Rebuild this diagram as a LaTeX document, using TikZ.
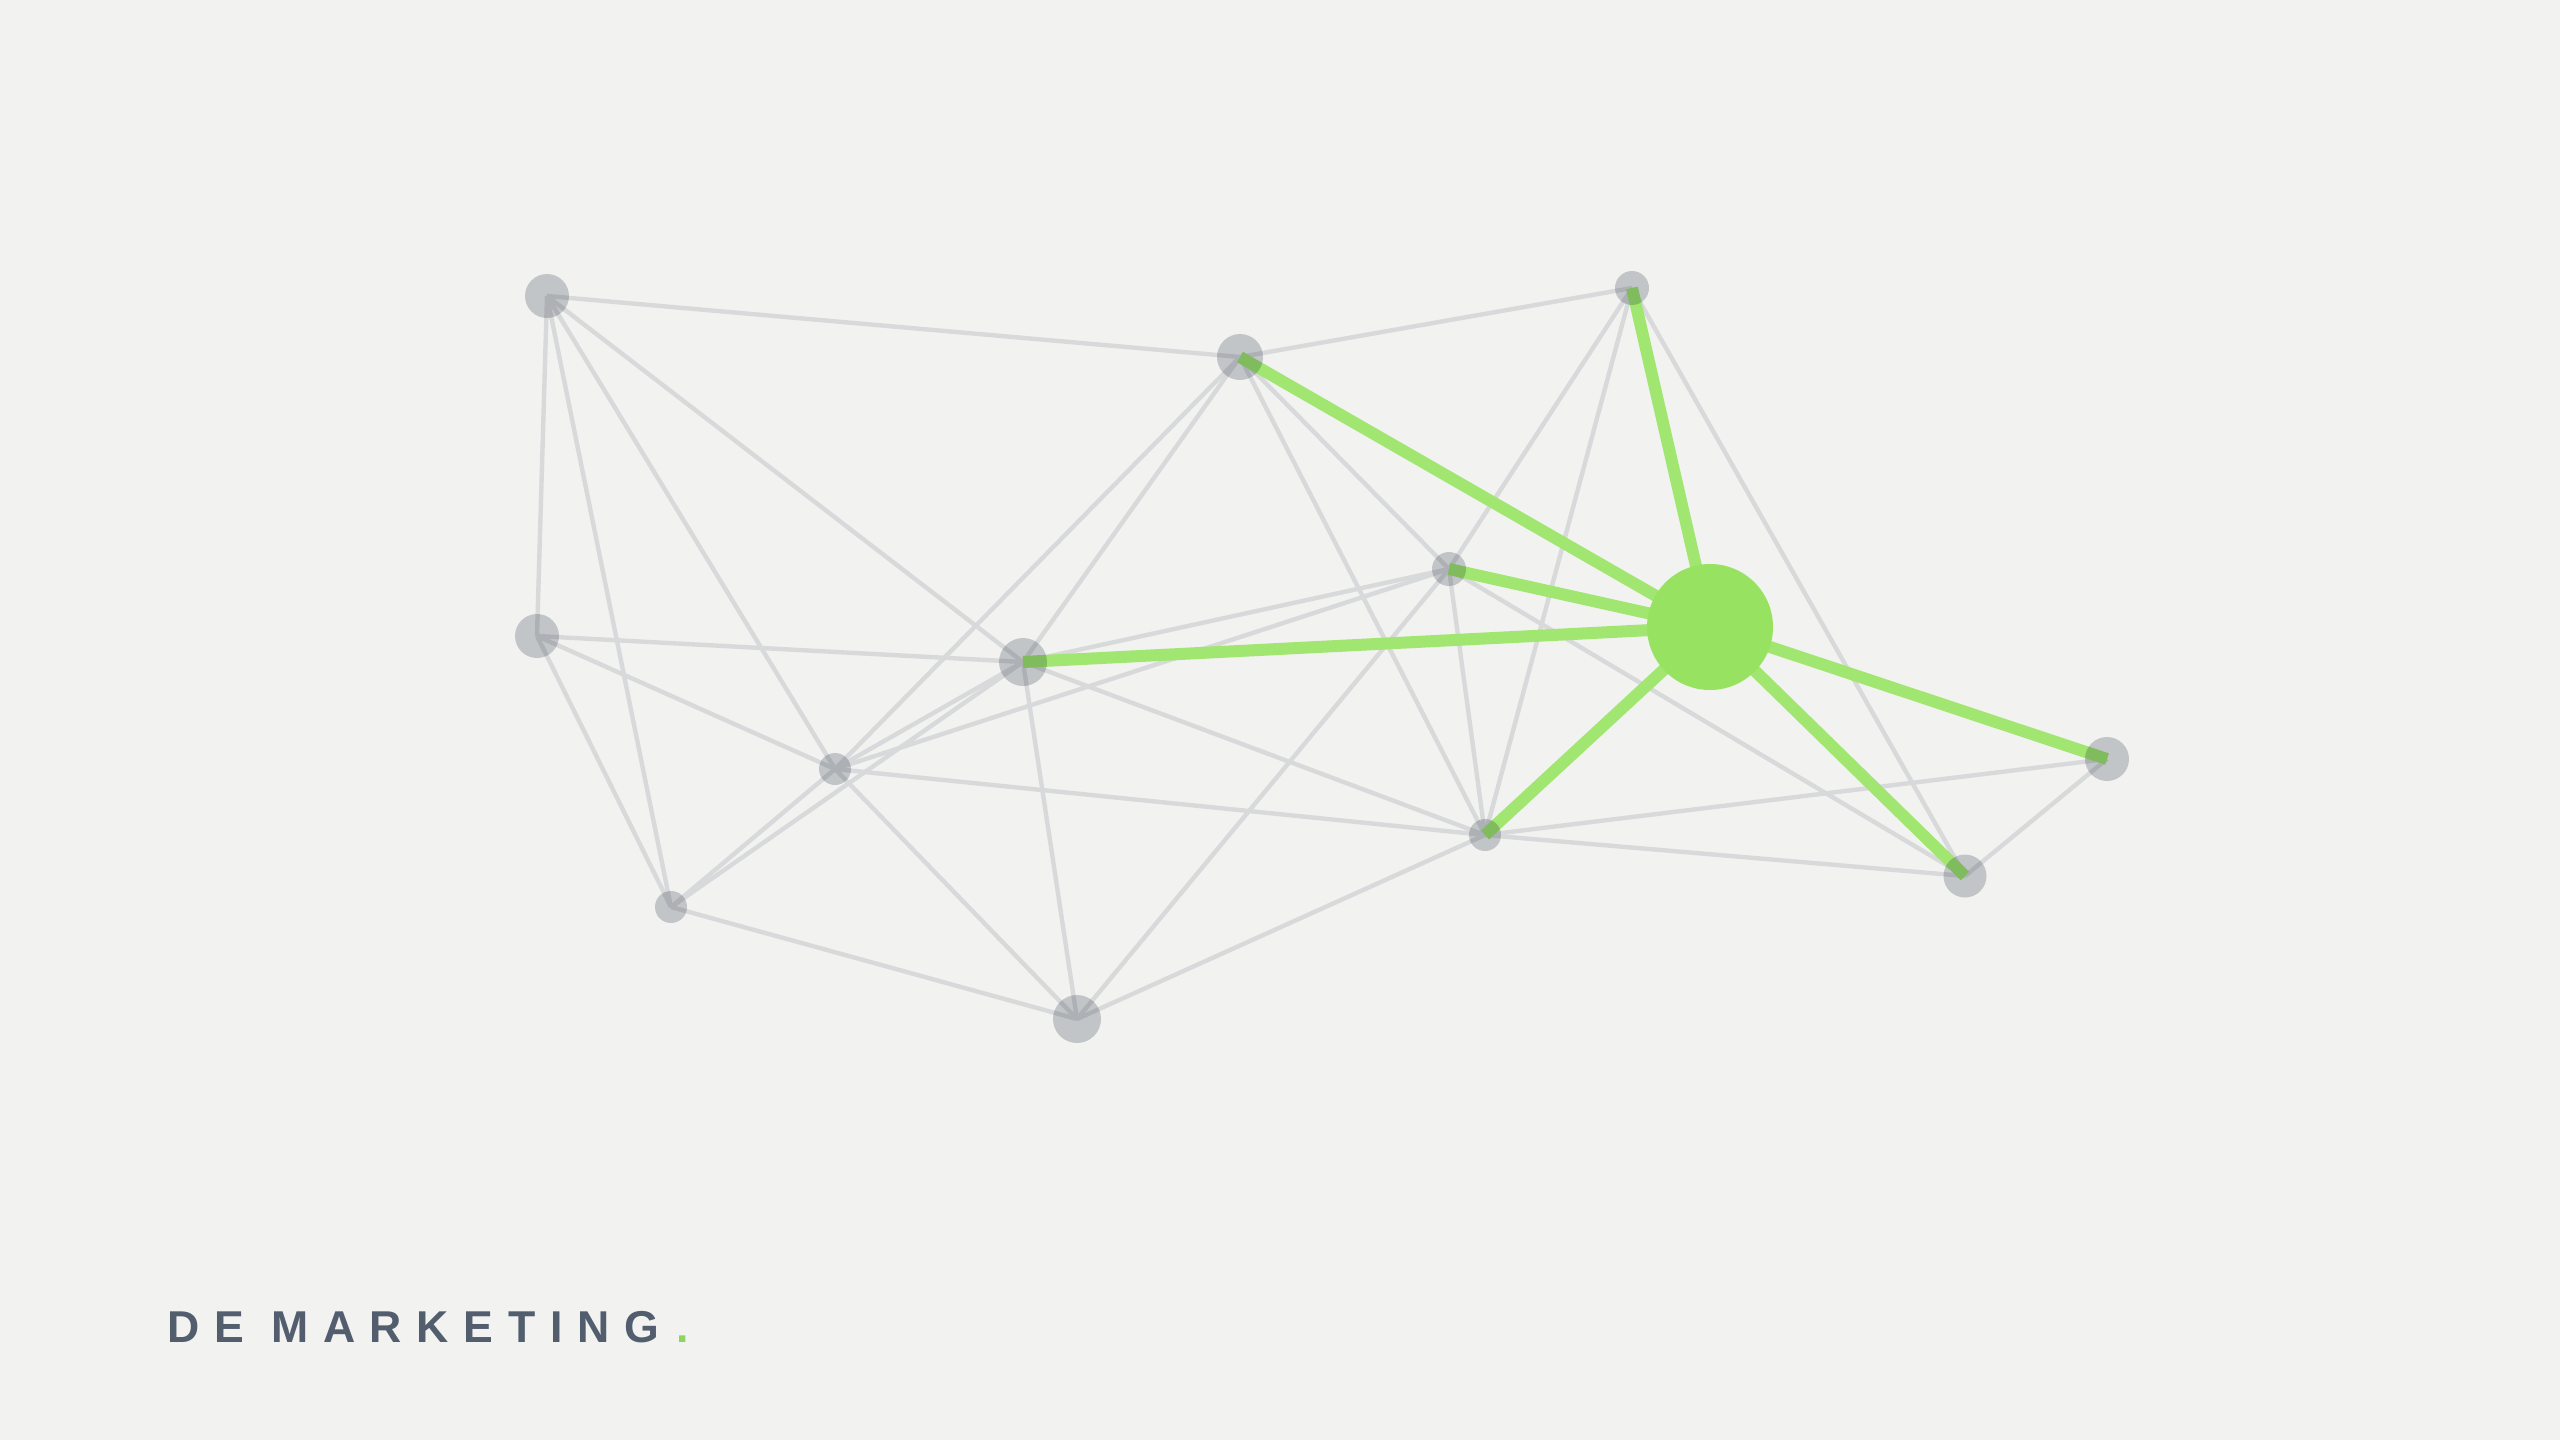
\documentclass[tikz,border=0pt]{standalone}
\usepackage{fontspec}
\setmainfont{Liberation Sans}
\newfontfamily\brandfont[LetterSpace=33]{Liberation Sans}
\definecolor{bgc}{HTML}{F2F2F0}
\definecolor{edgegray}{HTML}{D8D9DA}
\definecolor{edgegreen}{HTML}{A0E670}
\definecolor{hubgreen}{HTML}{98E262}
\definecolor{nodemul}{HTML}{CDD0D5}
\definecolor{brandtext}{HTML}{525D6E}
\definecolor{branddot}{HTML}{8FD45E}
\tikzset{
  gedge/.style={draw=edgegray, line width=2.2pt},
  hedge/.style={draw=edgegreen, line width=6pt},
  pt/.style={circle, inner sep=0pt, fill=nodemul, blend mode=multiply},
  hubnode/.style={circle, inner sep=0pt, fill=hubgreen},
}
\begin{document}
\begin{tikzpicture}[x=0.5pt, y=-0.5pt]
\fill[bgc] (0,0) rectangle (2560,1440);
\useasboundingbox (0,0) rectangle (2560,1440);
% node positions
\coordinate (pA) at (547,296);
\coordinate (pB) at (1240,357);
\coordinate (pC) at (1632,288);
\coordinate (pD) at (537,636);
\coordinate (pE) at (1023,662);
\coordinate (pF) at (1449,569);
\coordinate (pG) at (1710,627);
\coordinate (pH) at (835,769);
\coordinate (pI) at (671,907);
\coordinate (pJ) at (1077,1019);
\coordinate (pK) at (1485,835);
\coordinate (pL) at (1965,876);
\coordinate (pM) at (2107,759);
% gray edges
\foreach \u/\v in {A/B,A/D,A/I,A/H,A/E,B/C,B/H,B/E,B/F,B/K,C/F,C/K,C/L,D/E,D/H,D/I,E/F,E/H,E/I,E/J,E/K,F/H,F/J,F/K,F/L,H/I,H/J,H/K,I/J,J/K,K/L,K/M,L/M}
  \draw[gedge] (p\u) -- (p\v);
% green edges
\foreach \v in {B,C,F,E,K,L,M}
  \draw[hedge] (pG) -- (p\v);
% gray nodes
\node[pt, minimum size=22pt] (A) at (pA) {};
\node[pt, minimum size=23pt] (B) at (pB) {};
\node[pt, minimum size=17pt] (C) at (pC) {};
\node[pt, minimum size=22pt] (D) at (pD) {};
\node[pt, minimum size=24pt] (E) at (pE) {};
\node[pt, minimum size=17pt] (F) at (pF) {};
\node[pt, minimum size=16pt] (H) at (pH) {};
\node[pt, minimum size=16pt] (I) at (pI) {};
\node[pt, minimum size=24pt] (J) at (pJ) {};
\node[pt, minimum size=16pt] (K) at (pK) {};
\node[pt, minimum size=21.5pt] (L) at (pL) {};
\node[pt, minimum size=22pt] (M) at (pM) {};
% hub
\node[hubnode, minimum size=63pt] (G) at (pG) {};
% brand
\node[anchor=base west, inner sep=0pt, text=brandtext, font=\brandfont\bfseries\fontsize{22.3pt}{26pt}\selectfont] (brand) at (167,1342) {DE MARKETING\kern9pt\textcolor{branddot}{.}};
\end{tikzpicture}
\end{document}
